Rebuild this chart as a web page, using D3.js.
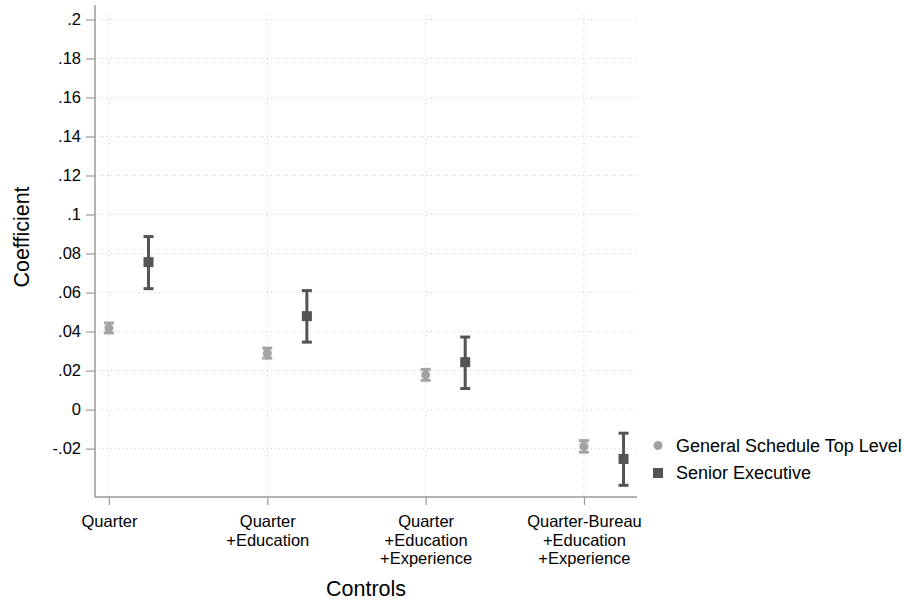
<!DOCTYPE html>
<html>
<head>
<meta charset="utf-8">
<script src="https://cdn.jsdelivr.net/npm/d3@7"></script>
<style>
  html, body { margin: 0; padding: 0; background: #fff; }
  svg { display: block; font-family: "Liberation Sans", Arial, Helvetica, sans-serif; }
</style>
</head>
<body>
<svg id="chart" width="904" height="601"></svg>
<script>
// ---- Data ----
const categories = [
  ["Quarter"],
  ["Quarter", "+Education"],
  ["Quarter", "+Education", "+Experience"],
  ["Quarter-Bureau", "+Education", "+Experience"]
];
const seriesNames = ["General Schedule Top Level", "Senior Executive"];
const gsCoef  = [0.0418, 0.0289, 0.0178, -0.0188];
const gsLow   = [0.0393, 0.0264, 0.0150, -0.0218];
const gsHigh  = [0.0444, 0.0315, 0.0206, -0.0159];
const seCoef  = [0.0756, 0.0479, 0.0243, -0.0253];
const seLow   = [0.0620, 0.0346, 0.0108, -0.0388];
const seHigh  = [0.0887, 0.0610, 0.0372, -0.0121];
const yTicks  = [0.2, 0.18, 0.16, 0.14, 0.12, 0.1, 0.08, 0.06, 0.04, 0.02, 0, -0.02];
const yTickLabels = [".2", ".18", ".16", ".14", ".12", ".1", ".08", ".06", ".04", ".02", "0", "-.02"];

// ---- Layout ----
const svg = d3.select("#chart");
const plotLeft = 95, plotRight = 637, plotTop = 5, plotBottom = 497;
const x = d3.scaleLinear().domain([0.912, 4.335]).range([plotLeft, plotRight]);
const y = d3.scaleLinear().domain([-0.0448, 0.2074]).range([plotBottom, plotTop]);
const offset = 0.25;
const gsColor = "#a3a3a3", seColor = "#545454", axisColor = "#9a9a9a", gridColor = "#cfcfcf";
const tickFont = 16.5;
const legendFont = 18;
const titleFont = 21.5;

// Grid lines (horizontal)
svg.append("g").selectAll("line").data(yTicks).join("line")
  .attr("x1", plotLeft).attr("x2", plotRight)
  .attr("y1", d => y(d)).attr("y2", d => y(d))
  .attr("stroke", gridColor).attr("stroke-width", 1).attr("stroke-dasharray", "1,3");

// Grid lines (vertical at category ticks)
svg.append("g").selectAll("line").data(categories).join("line")
  .attr("x1", (d, i) => x(i + 1)).attr("x2", (d, i) => x(i + 1))
  .attr("y1", plotTop + 10).attr("y2", plotBottom)
  .attr("stroke", gridColor).attr("stroke-width", 1).attr("stroke-dasharray", "1,3");

// Y axis
const yAxis = d3.axisLeft(y).tickValues(yTicks)
  .tickFormat((d, i) => yTickLabels[i]).tickSize(9).tickPadding(5);
const gy = svg.append("g").attr("transform", `translate(${plotLeft},0)`).call(yAxis);
gy.select(".domain").attr("d", `M0,${plotTop}V${plotBottom}`).attr("stroke", axisColor).attr("stroke-width", 1.5);
gy.selectAll(".tick line").attr("stroke", axisColor).attr("stroke-width", 1.2);
gy.selectAll(".tick text").attr("font-size", tickFont).attr("fill", "#000")
  .attr("font-family", "Liberation Sans, Arial, sans-serif");

// X axis
const xAxis = d3.axisBottom(x).tickValues([1, 2, 3, 4]).tickSize(8).tickFormat("");
const gx = svg.append("g").attr("transform", `translate(0,${plotBottom})`).call(xAxis);
gx.select(".domain").attr("d", `M${plotLeft},0H${plotRight}`).attr("stroke", axisColor).attr("stroke-width", 1.5);
gx.selectAll(".tick line").attr("stroke", axisColor).attr("stroke-width", 1.2);
gx.selectAll(".tick").each(function(d, i) {
  const t = d3.select(this).append("text")
    .attr("text-anchor", "middle").attr("font-size", tickFont).attr("fill", "#000")
    .attr("font-family", "Liberation Sans, Arial, sans-serif");
  categories[i].forEach((line, k) => {
    t.append("tspan").attr("x", 0).attr("y", 30 + k * 18.5).text(line);
  });
});

// Error bars + markers
function drawSeries(coef, lo, hi, off, color, shape) {
  const g = svg.append("g");
  coef.forEach((c, i) => {
    const cx = x(i + 1 + off);
    g.append("line").attr("x1", cx).attr("x2", cx).attr("y1", y(lo[i])).attr("y2", y(hi[i]))
      .attr("stroke", color).attr("stroke-width", 3);
    [lo[i], hi[i]].forEach(v => {
      g.append("line").attr("x1", cx - 5).attr("x2", cx + 5).attr("y1", y(v)).attr("y2", y(v))
        .attr("stroke", color).attr("stroke-width", 3);
    });
    if (shape === "circle") {
      g.append("circle").attr("cx", cx).attr("cy", y(c)).attr("r", 4.5).attr("fill", color);
    } else {
      g.append("rect").attr("x", cx - 5).attr("y", y(c) - 5).attr("width", 10).attr("height", 10).attr("fill", color);
    }
  });
}
drawSeries(gsCoef, gsLow, gsHigh, 0, gsColor, "circle");
drawSeries(seCoef, seLow, seHigh, offset, seColor, "square");

// Axis titles
svg.append("text").attr("transform", `translate(29,237) rotate(-90)`)
  .attr("text-anchor", "middle").attr("font-size", titleFont).attr("fill", "#000").text("Coefficient");
svg.append("text").attr("x", 366).attr("y", 596)
  .attr("text-anchor", "middle").attr("font-size", titleFont).attr("fill", "#000").text("Controls");

// Legend
const legend = svg.append("g");
legend.append("circle").attr("cx", 658).attr("cy", 445.5).attr("r", 4.5).attr("fill", gsColor);
legend.append("rect").attr("x", 653).attr("y", 468).attr("width", 10).attr("height", 10).attr("fill", seColor);
legend.append("text").attr("x", 676).attr("y", 452).attr("font-size", legendFont).attr("fill", "#000").text(seriesNames[0]);
legend.append("text").attr("x", 676).attr("y", 479).attr("font-size", legendFont).attr("fill", "#000").text(seriesNames[1]);
</script>
</body>
</html>
